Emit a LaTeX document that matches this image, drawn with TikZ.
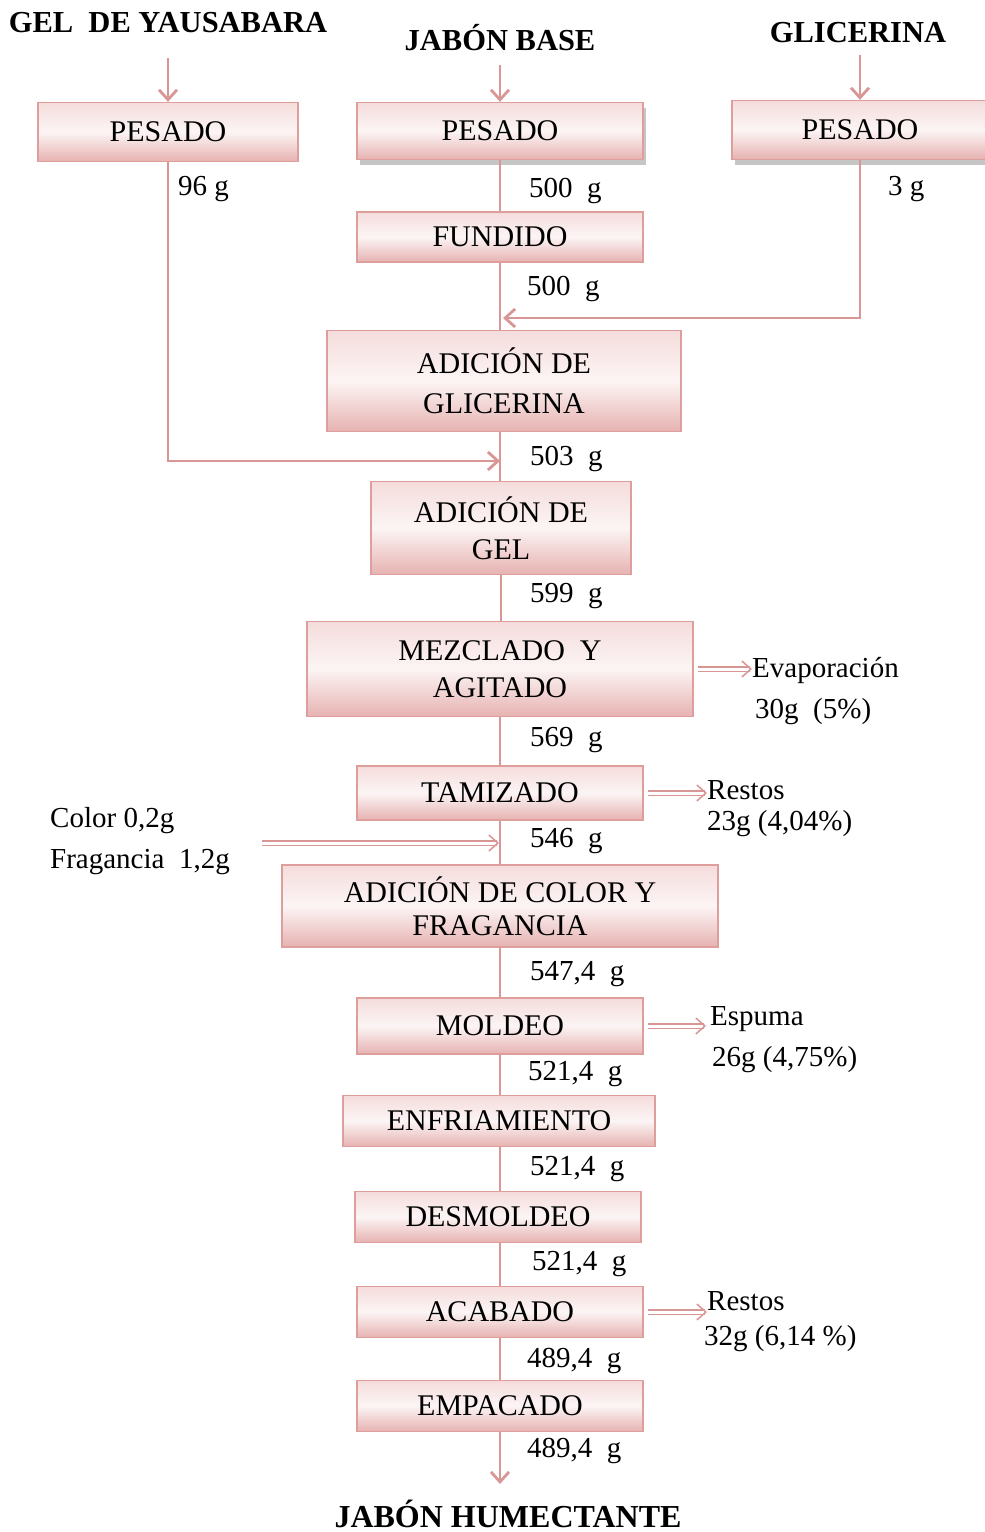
\documentclass[tikz,border=0pt]{standalone}
\usepackage{fontspec}
\setmainfont{Liberation Serif}
\usetikzlibrary{arrows.meta,shadows}
\definecolor{lc}{RGB}{216,150,148}
\definecolor{bl}{RGB}{222,158,156}
\definecolor{ftop}{RGB}{245,220,220}
\definecolor{fbot}{RGB}{230,178,177}
\begin{document}
\begin{tikzpicture}[x=1pt,y=-1pt,
  box/.style={draw=bl, line width=1.3pt, top color=ftop, bottom color=fbot,
    middle color=white!70!ftop, font=\fontsize{30}{37}\selectfont, align=center, inner sep=0pt},
  shad/.style={drop shadow={shadow xshift=3pt, shadow yshift=-5pt, fill=gray, opacity=0.45}},
  title/.style={font=\fontsize{30.5}{34}\selectfont\bfseries, inner sep=0pt, anchor=base},
  lbl/.style={font=\fontsize{29}{30}\selectfont, inner sep=0pt, anchor=base west},
  flow/.style={draw=lc, line width=2.8pt},
  flowar/.style={flow, -{Straight Barb[length=10pt,width=18pt]}},
  side/.style={draw=lc, line width=1.5pt, double=white, double distance=3pt,
    -{Straight Barb[length=9pt,width=16pt]}, shorten <=4pt}]
\useasboundingbox (0,0) rectangle (985,1532);

% titles
\node[title] (tgel) at (168,32) {GEL\ \ DE YAUSABARA};
\node[title] (tjab) at (500,50) {JABÓN BASE};
\node[title] (tgli) at (858,42) {GLICERINA};
\node[title, font=\fontsize{32}{34}\selectfont\bfseries] (thum) at (508,1527) {JABÓN HUMECTANTE};

% boxes
\node[box, minimum width=260pt, minimum height=59pt] (pl) at (168,132) {PESADO};
\node[box, shad, minimum width=286pt, minimum height=57pt] (pm) at (500,131) {PESADO};
\node[box, shad, minimum width=256pt, minimum height=59pt] (pr) at (860,130) {PESADO};
\node[box, minimum width=286pt, minimum height=50pt] (fund) at (500,237) {FUNDIDO};
\node[box, minimum width=354pt, minimum height=101pt, font=\fontsize{30}{40}\selectfont] (adglic) at (504,381) {ADICIÓN DE\\GLICERINA};
\node[box, minimum width=260pt, minimum height=93pt] (adgel) at (501,528) {ADICIÓN DE\\GEL};
\node[box, minimum width=386pt, minimum height=95pt] (mez) at (500,669) {MEZCLADO\ \ Y\\AGITADO};
\node[box, minimum width=286pt, minimum height=54pt] (tam) at (500,793) {TAMIZADO};
\node[box, minimum width=436pt, minimum height=82pt, font=\fontsize{30}{33}\selectfont] (adcol) at (500,906) {ADICIÓN DE COLOR Y\\FRAGANCIA};
\node[box, minimum width=286pt, minimum height=56pt] (mol) at (500,1026) {MOLDEO};
\node[box, minimum width=312pt, minimum height=51pt] (enf) at (499,1121) {ENFRIAMIENTO};
\node[box, minimum width=286pt, minimum height=51pt] (desm) at (498,1217) {DESMOLDEO};
\node[box, minimum width=286pt, minimum height=51pt] (acab) at (500,1312) {ACABADO};
\node[box, minimum width=286pt, minimum height=51pt] (emp) at (500,1406) {EMPACADO};

% weight labels
\node[lbl] (w1) at (178,195) {96 g};
\node[lbl] (w2) at (529,197) {500\ \ g};
\node[lbl] (w3) at (888,195) {3 g};
\node[lbl] (w4) at (527,295) {500\ \ g};
\node[lbl] (w5) at (530,465) {503\ \ g};
\node[lbl] (w6) at (530,602) {599\ \ g};
\node[lbl] (w7) at (530,746) {569\ \ g};
\node[lbl] (w8) at (530,847) {546\ \ g};
\node[lbl] (w9) at (530,980) {547,4\ \ g};
\node[lbl] (w10) at (528,1080) {521,4\ \ g};
\node[lbl] (w11) at (530,1175) {521,4\ \ g};
\node[lbl] (w12) at (532,1270) {521,4\ \ g};
\node[lbl] (w13) at (527,1367) {489,4\ \ g};
\node[lbl] (w14) at (527,1457) {489,4\ \ g};

% side labels
\node[lbl] (evap) at (752,677) {Evaporación};
\node[lbl] (evap2) at (755,718) {30g\ \ (5\%)};
\node[lbl] (rest1) at (707,799) {Restos};
\node[lbl] (rest1b) at (707,830) {23g (4,04\%)};
\node[lbl] (esp) at (710,1025) {Espuma};
\node[lbl] (esp2) at (712,1066) {26g (4,75\%)};
\node[lbl] (rest2) at (707,1310) {Restos};
\node[lbl] (rest2b) at (704,1345) {32g (6,14 \%)};
\node[lbl] (col) at (50,827) {Color 0,2g};
\node[lbl] (fra) at (50,868) {Fragancia\ \ 1,2g};

% coordinates
\coordinate (s1) at (168,58);
\coordinate (s2) at (500,65);
\coordinate (s3) at (860,55);
\coordinate (j1) at (500,461);
\coordinate (j2) at (503,318);
\coordinate (cf) at (262,843);
\coordinate (c2) at (499,843);
\coordinate (endp) at (500,1484);

% input arrows
\draw[flowar] (s1) -- (pl);
\draw[flowar] (s2) -- (pm);
\draw[flowar] (s3) -- (pr);

% main line
\draw[flow] (pm.south) -- (pm.south |- fund.north);
\draw[flow] (fund.south) -- (fund.south |- adglic.north);
\draw[flow] (fund.south |- adglic.south) -- (fund.south |- adgel.north);
\draw[flow] (adgel.south) -- (adgel.south |- mez.north);
\draw[flow] (mez.south) -- (mez.south |- tam.north);
\draw[flow] (tam.south) -- (tam.south |- adcol.north);
\draw[flow] (adcol.south) -- (adcol.south |- mol.north);
\draw[flow] (mol.south) -- (mol.south |- enf.north);
\draw[flow] (mol.south |- enf.south) -- (mol.south |- desm.north);
\draw[flow] (mol.south |- desm.south) -- (mol.south |- acab.north);
\draw[flow] (acab.south) -- (acab.south |- emp.north);
\draw[flowar] (emp.south) -- (endp);

% side inputs
\draw[flowar] (pl.south) |- (j1);
\draw[flowar] (pr.south) |- (j2);
\draw[side, shorten <=0pt] (cf) -- (c2);

% side outputs
\draw[side] (mez.east) -- (mez.east -| evap.west);
\draw[side] (tam.east) -- (tam.east -| rest1.west);
\draw[side] (mol.east) -- ([xshift=-4pt]mol.east -| esp.west);
\draw[side] (acab.east) -- (acab.east -| rest2.west);
\end{tikzpicture}
\end{document}
